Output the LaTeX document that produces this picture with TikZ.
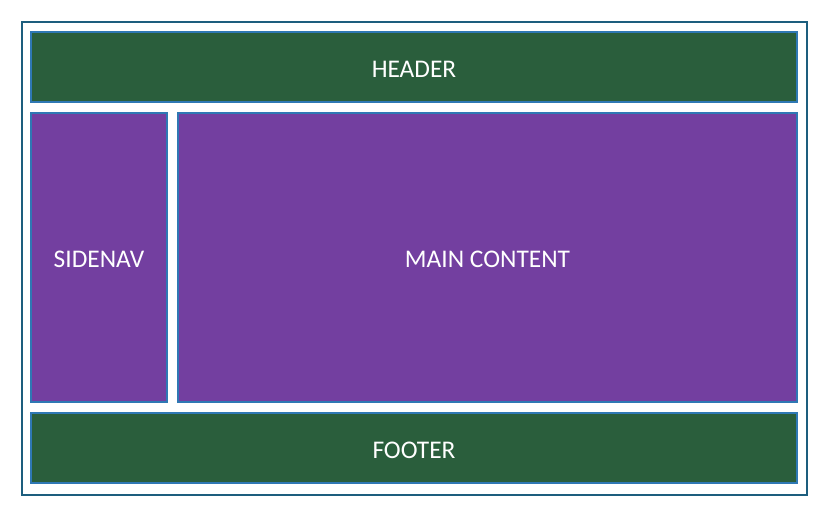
\documentclass[tikz,border=0pt]{standalone}
\usepackage{fontspec}
\setmainfont{Carlito}
\begin{document}
\definecolor{frameblue}{HTML}{1D5E7E}
\definecolor{edgeblue}{HTML}{2F78B4}
\definecolor{regiongreen}{HTML}{2A5E3C}
\definecolor{regionpurple}{HTML}{733FA0}
\begin{tikzpicture}[x=1bp,y=-1bp,
  region/.style={draw=edgeblue,line width=1.6bp,inner sep=0pt,text=white,font=\fontsize{25.5}{30}\selectfont},
  band/.style={region,fill=regiongreen},
  panel/.style={region,fill=regionpurple},
  label/.style={yshift=-2bp}]
  \useasboundingbox[fill=white] (0,0) rectangle (824,509);
  % outer page frame
  \draw[frameblue,line width=1.6bp] (22,22) rectangle (807,495);
  % layout regions
  \draw[band] (31,32) rectangle (797,102) node[midway,label] (header) {HEADER};
  \draw[panel] (31,113) rectangle (167,402) node[midway,label] (sidenav) {SIDENAV};
  \draw[panel] (178,113) rectangle (797,402) node[midway,label] (main) {MAIN CONTENT};
  \draw[band] (31,413) rectangle (797,483) node[midway,label] (footer) {FOOTER};
\end{tikzpicture}
\end{document}
